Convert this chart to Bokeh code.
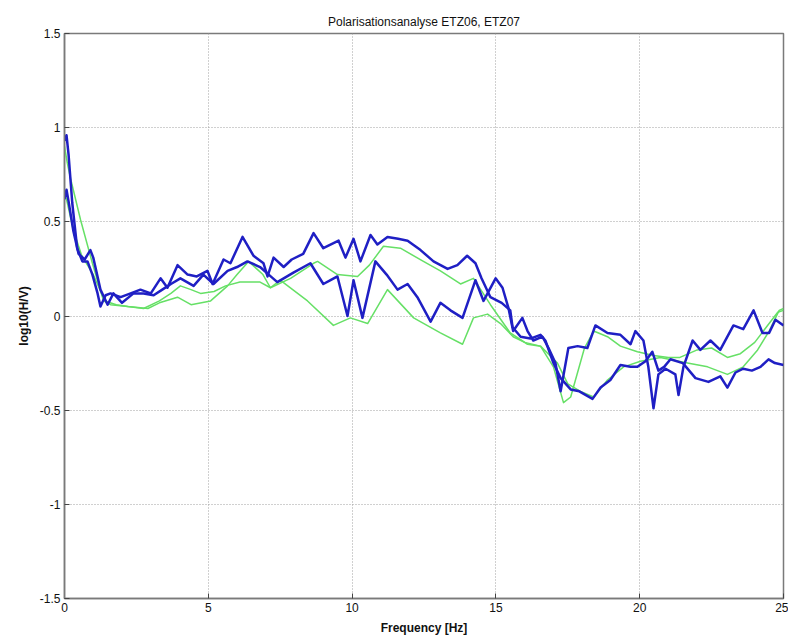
from bokeh.plotting import figure
from bokeh.models import FixedTicker, Range1d
from bokeh.embed import file_html
from bokeh.resources import INLINE

# ---- data ----
b1_x = [0.0, 0.07, 0.14, 0.27, 0.44, 0.62, 0.8, 0.97, 1.15, 1.25, 1.43, 1.6, 1.95, 2.3, 2.64, 3.0, 3.34, 3.58,
        3.93, 4.28, 4.6, 4.97, 5.15, 5.53, 5.77, 6.19, 6.57, 6.92, 7.06, 7.27, 7.62, 7.9, 8.3, 8.66, 9.0, 9.53,
        9.77, 10.05, 10.29, 10.64, 10.88, 11.23, 11.6, 11.93, 12.38, 12.83, 13.32, 13.66, 14.0, 14.29, 14.5,
        14.81, 15.2, 15.5, 15.58, 15.86, 16.2, 16.55, 16.72, 17.0, 17.25, 17.6, 17.9, 18.36, 18.64, 18.98, 19.33,
        19.68, 19.92, 20.2, 20.44, 20.65, 20.85, 21.07, 21.5, 21.94, 22.39, 22.8, 23.05, 23.33, 23.6, 23.9, 24.2,
        24.48, 24.7, 25.0]
b1_y = [0.93, 0.96, 0.86, 0.60, 0.36, 0.29, 0.29, 0.22, 0.12, 0.05, 0.11, 0.12, 0.10, 0.12, 0.14, 0.12, 0.20, 0.15,
        0.27, 0.22, 0.21, 0.24, 0.17, 0.30, 0.28, 0.42, 0.32, 0.28, 0.21, 0.31, 0.26, 0.30, 0.33, 0.44, 0.36, 0.40,
        0.31, 0.41, 0.29, 0.43, 0.38, 0.42, 0.41, 0.40, 0.35, 0.29, 0.25, 0.27, 0.32, 0.28, 0.20,
        0.10, 0.07, 0.03, -0.06, -0.11, -0.12, -0.10, -0.13, -0.25, -0.33, -0.39, -0.40, -0.44, -0.38, -0.34, -0.26,
        -0.27, -0.27, -0.24, -0.19, -0.29, -0.27, -0.23, -0.25, -0.33, -0.35, -0.32, -0.38, -0.30, -0.28, -0.29, -0.27,
        -0.23, -0.25, -0.26]

b2_x = [0.0, 0.07, 0.14, 0.31, 0.49, 0.7, 0.9, 1.0, 1.25, 1.5, 1.7, 2.0, 2.4, 2.75, 3.1, 3.4, 3.7, 4.03, 4.49,
        4.83, 5.18, 5.67, 6.0, 6.36, 6.8, 7.1, 7.4, 7.96, 8.55, 9.0, 9.25, 9.49, 9.84, 10.05, 10.36, 10.81, 11.2,
        11.58, 11.93, 12.27, 12.73, 13.07, 13.42, 13.84, 14.29, 14.57, 14.99, 15.23, 15.44, 15.6, 15.92, 16.1,
        16.3, 16.62, 16.83, 17.07, 17.25, 17.52, 17.84, 18.18, 18.46, 18.88, 19.33, 19.68, 19.85, 20.13, 20.3,
        20.48, 20.65, 20.9, 21.24, 21.35, 21.52, 21.84, 22.11, 22.46, 22.8, 23.26, 23.6, 23.96, 24.27, 24.5,
        24.72, 25.0]
b2_y = [0.62, 0.67, 0.61, 0.45, 0.33, 0.30, 0.35, 0.31, 0.14, 0.06, 0.12, 0.07, 0.12, 0.12, 0.11, 0.14, 0.17, 0.20,
        0.16, 0.22, 0.17, 0.24, 0.26, 0.29, 0.26, 0.22, 0.18, 0.23, 0.28, 0.17, 0.19, 0.21, 0.00, 0.19, -0.01, 0.29,
        0.22, 0.14, 0.17, 0.10, -0.03, 0.07, 0.03, -0.01, 0.19, 0.08, 0.20, 0.15, 0.04, -0.08, -0.01, -0.08,
        -0.13, -0.11, -0.17, -0.25, -0.40, -0.17, -0.16, -0.17, -0.05, -0.09, -0.10, -0.15, -0.08, -0.13, -0.27,
        -0.49, -0.31, -0.28, -0.31, -0.42, -0.27, -0.13, -0.18, -0.13, -0.18, -0.05, -0.07, 0.03, -0.09, -0.09,
        -0.02, -0.05]

g1_x = [0.0, 0.1, 0.21, 0.56, 0.97, 1.36, 1.6, 2.2, 2.75, 3.3, 3.7, 4.03, 4.4, 4.73, 5.2, 5.6, 6.1, 6.8, 7.16,
        7.86, 8.66, 8.8, 9.49, 10.19, 10.6, 11.09, 11.68, 12.48, 13.07, 13.77, 14.22, 14.81, 15.5, 16.1, 16.55,
        17.14, 17.5, 17.94, 18.4, 18.88, 19.44, 20.03, 20.72, 21.66, 22.36, 23.05, 23.6, 24.1, 24.5, 24.85, 25.0]
g1_y = [0.90, 0.81, 0.73, 0.51, 0.28, 0.08, 0.06, 0.05, 0.04, 0.08, 0.12, 0.16, 0.14, 0.12, 0.13, 0.16, 0.18, 0.18, 0.15,
        0.20, 0.28, 0.29, 0.22, 0.21, 0.27, 0.37, 0.36, 0.29, 0.24, 0.17, 0.20, 0.06, -0.09, -0.15, -0.16,
        -0.25, -0.36, -0.40, -0.43, -0.34, -0.27, -0.24, -0.22, -0.25, -0.27, -0.31, -0.27, -0.18, -0.08, 0.03, 0.04]

g2_x = [0.0, 0.1, 0.3, 0.6, 1.0, 1.4, 1.8, 2.2, 2.9, 3.3, 3.93, 4.4, 5.08, 5.67, 6.0, 6.4, 6.9, 7.16, 7.5, 8.45,
        9.35, 9.94, 10.54, 11.23, 12.14, 13.07, 13.84, 14.22, 14.71, 15.16, 15.6, 16.0, 16.55, 17.0, 17.35, 17.6,
        18.08, 18.4, 18.88, 19.33, 19.92, 20.48, 21.0, 21.4, 22.0, 22.5, 23.05, 23.5, 24.0, 24.4, 24.8, 25.0]
g2_y = [0.66, 0.60, 0.46, 0.32, 0.22, 0.08, 0.06, 0.05, 0.04, 0.07, 0.10, 0.06, 0.08, 0.16, 0.22, 0.29, 0.22, 0.15, 0.19,
        0.08, -0.05, -0.01, -0.04, 0.14, -0.01, -0.09, -0.15, -0.01, 0.01, -0.04, -0.11, -0.14, -0.16, -0.27, -0.46,
        -0.43, -0.17, -0.08, -0.11, -0.16, -0.19, -0.21, -0.22, -0.22, -0.18, -0.17, -0.22, -0.20, -0.14, -0.06, 0.02,
        0.03]

x_ticks = [0, 5, 10, 15, 20, 25]
y_ticks = [-1.5, -1.0, -0.5, 0.0, 0.5, 1.0, 1.5]
y_tick_labels = ["-1.5", "-1", "-0.5", "0", "0.5", "1", "1.5"]

BLUE = "#1f1fc4"
GREEN = "#66e066"
FONT = "Liberation Sans"

p = figure(width=788, height=641, output_backend="svg", toolbar_location=None,
           x_range=Range1d(0, 25), y_range=Range1d(-1.5, 1.5),
           title="Polarisationsanalyse ETZ06, ETZ07",
           min_border_left=64, min_border_right=5, min_border_top=33, min_border_bottom=43)

p.title.align = "center"
p.title.text_font = FONT
p.title.text_font_size = "12px"
p.title.text_font_style = "normal"
p.title.text_color = "#111111"

for xs, ys in [(g1_x, g1_y), (g2_x, g2_y)]:
    p.line(xs, ys, line_color=GREEN, line_width=1.5, line_join="round")
for xs, ys in [(b1_x, b1_y), (b2_x, b2_y)]:
    p.line(xs, ys, line_color=BLUE, line_width=2.5, line_join="round")

p.outline_line_color = "#7a7a7a"
p.outline_line_width = 1.5

p.xaxis.ticker = FixedTicker(ticks=x_ticks)
p.yaxis.ticker = FixedTicker(ticks=y_ticks)
p.yaxis.major_label_overrides = {t: s for t, s in zip(y_ticks, y_tick_labels)}
p.xaxis.axis_label = "Frequency [Hz]"
p.yaxis.axis_label = "log10(H/V)"

for ax in [p.xaxis[0], p.yaxis[0]]:
    ax.axis_line_color = "#7a7a7a"
    ax.axis_line_width = 1.5
    ax.major_tick_in = 5
    ax.major_tick_out = 0
    ax.major_tick_line_color = "#444444"
    ax.minor_tick_line_color = None
    ax.major_label_text_font = FONT
    ax.major_label_text_font_size = "12px"
    ax.major_label_text_color = "#111111"
    ax.axis_label_text_font = FONT
    ax.axis_label_text_font_size = "12px"
    ax.axis_label_text_font_style = "bold"
    ax.axis_label_text_color = "#111111"
    ax.major_label_standoff = 4
    ax.axis_label_standoff = 6

p.xgrid.ticker = FixedTicker(ticks=x_ticks)
p.ygrid.ticker = FixedTicker(ticks=y_ticks)
p.grid.grid_line_color = "#a0a0a0"
p.grid.grid_line_dash = "1 2"
p.grid.grid_line_width = 1

open("out.html", "w").write(file_html(p, INLINE))
